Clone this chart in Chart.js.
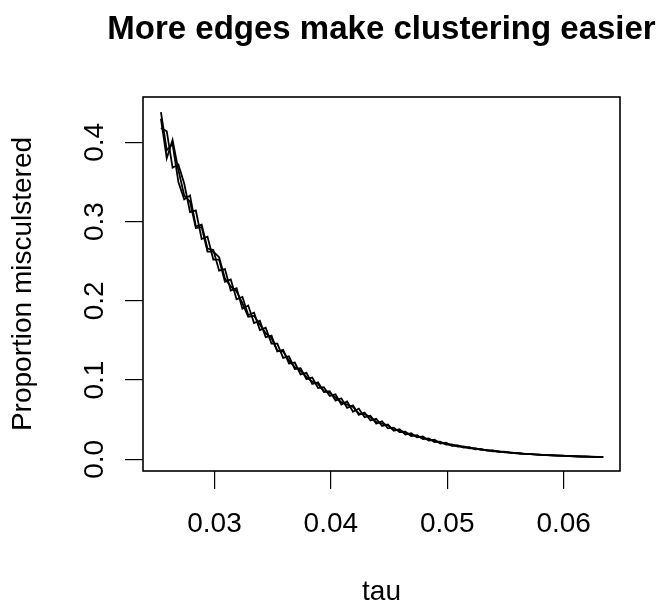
<!DOCTYPE html>
<html>
<head>
<meta charset="utf-8">
<title>More edges make clustering easier</title>
<script src="https://cdn.jsdelivr.net/npm/chart.js@4.4.1/dist/chart.umd.min.js"></script>
<style>
  html, body { margin: 0; padding: 0; background: #fff; }
  #wrap { width: 663px; height: 602px; position: relative; }
</style>
</head>
<body>
<div id="wrap"><canvas id="grafico"></canvas></div>
<script>
// tau values (x), one per point
const tau = [
  0.0254, 0.0259, 0.0264, 0.0269, 0.0274, 0.0279, 0.0284, 0.0289, 0.0294, 0.0299,
  0.0304, 0.0309, 0.0314, 0.0319, 0.0324, 0.0329, 0.0334, 0.0339, 0.0344, 0.0349,
  0.0354, 0.0359, 0.0364, 0.0369, 0.0374, 0.0379, 0.0384, 0.0389, 0.0394, 0.0399,
  0.0404, 0.0409, 0.0414, 0.0419, 0.0424, 0.0429, 0.0434, 0.0439, 0.0444, 0.0449,
  0.0454, 0.0459, 0.0464, 0.0469, 0.0474, 0.0479, 0.0484, 0.0489, 0.0494, 0.0499,
  0.0504, 0.0509, 0.0514, 0.0519, 0.0524, 0.0529, 0.0534, 0.0539, 0.0544, 0.0549,
  0.0554, 0.0559, 0.0564, 0.0569, 0.0574, 0.0579, 0.0584, 0.0589, 0.0594, 0.0599,
  0.0604, 0.0609, 0.0614, 0.0619, 0.0624, 0.0629, 0.0634
];

// proportion misclustered, three runs
const run1 = [
  0.438, 0.390, 0.398, 0.350, 0.328, 0.333, 0.294, 0.296, 0.266, 0.264,
  0.238, 0.240, 0.213, 0.216, 0.190, 0.194, 0.172, 0.175, 0.154, 0.156,
  0.136, 0.138, 0.121, 0.122, 0.107, 0.109, 0.095, 0.097, 0.085, 0.086,
  0.074, 0.077, 0.065, 0.068, 0.056, 0.059, 0.049, 0.051, 0.042, 0.044,
  0.0360, 0.0378, 0.0312, 0.0328, 0.0276, 0.0287, 0.0236, 0.0246, 0.0198, 0.0210,
  0.0170, 0.0176, 0.0146, 0.0153, 0.0125, 0.0130, 0.0108, 0.0111, 0.0094, 0.0095,
  0.0081, 0.0080, 0.0070, 0.0069, 0.0061, 0.0059, 0.0053, 0.0052, 0.0046, 0.0045,
  0.0040, 0.0040, 0.0035, 0.0035, 0.0031, 0.0031, 0.0029
];
const run2 = [
  0.418, 0.414, 0.368, 0.372, 0.348, 0.312, 0.314, 0.278, 0.281, 0.252,
  0.252, 0.224, 0.227, 0.202, 0.205, 0.182, 0.185, 0.163, 0.166, 0.146,
  0.146, 0.128, 0.130, 0.114, 0.115, 0.101, 0.103, 0.090, 0.091, 0.080,
  0.082, 0.069, 0.073, 0.060, 0.064, 0.053, 0.055, 0.045, 0.048, 0.039,
  0.0400, 0.0343, 0.0347, 0.0293, 0.0305, 0.0254, 0.0264, 0.0218, 0.0222, 0.0185,
  0.0188, 0.0160, 0.0162, 0.0138, 0.0139, 0.0119, 0.0119, 0.0101, 0.0102, 0.0087,
  0.0088, 0.0076, 0.0074, 0.0065, 0.0064, 0.0056, 0.0056, 0.0049, 0.0047, 0.0045,
  0.0041, 0.0038, 0.0037, 0.0033, 0.0033, 0.0030, 0.0028
];
const run3 = [
  0.430, 0.380, 0.403, 0.365, 0.333, 0.325, 0.292, 0.293, 0.262, 0.262,
  0.255, 0.228, 0.218, 0.212, 0.197, 0.180, 0.181, 0.170, 0.159, 0.153,
  0.137, 0.136, 0.125, 0.116, 0.112, 0.104, 0.098, 0.095, 0.086, 0.084,
  0.078, 0.072, 0.069, 0.066, 0.058, 0.057, 0.053, 0.047, 0.045, 0.043,
  0.0368, 0.0368, 0.0336, 0.0308, 0.0292, 0.0268, 0.0252, 0.0235, 0.0206, 0.0198,
  0.0177, 0.0172, 0.0154, 0.0146, 0.0132, 0.0124, 0.0112, 0.0108, 0.0096, 0.0093,
  0.0084, 0.0078, 0.0071, 0.0068, 0.0061, 0.0059, 0.0053, 0.0051, 0.0048, 0.0043,
  0.0042, 0.0038, 0.0035, 0.0034, 0.0031, 0.0030, 0.0028
];

const titulo = 'More edges make clustering easier';
const xTicks = [0.03, 0.04, 0.05, 0.06];
const yTicks = [0.0, 0.1, 0.2, 0.3, 0.4];

const fonte = "'Liberation Sans', Arial, Helvetica, sans-serif";

function pontos(ys) {
  return ys.map((y, i) => ({ x: tau[i], y: y }));
}

function serie(ys) {
  return {
    data: pontos(ys),
    borderColor: '#000',
    backgroundColor: '#000',
    borderWidth: 1.8,
    pointRadius: 0,
    tension: 0,
    fill: false
  };
}

// box round the plot region (R's bty = "o") and the main title,
// centred over the plot region but allowed to run wider than it
const caixa = {
  id: 'caixa',
  afterDraw(chart) {
    const a = chart.chartArea;
    const ctx = chart.ctx;
    ctx.save();
    ctx.strokeStyle = '#000';
    ctx.lineWidth = 1.6;
    ctx.strokeRect(a.left, a.top, a.right - a.left, a.bottom - a.top);
    ctx.fillStyle = '#000';
    ctx.font = 'bold 33px ' + fonte;
    ctx.textAlign = 'center';
    ctx.textBaseline = 'alphabetic';
    ctx.fillText(titulo, (a.left + a.right) / 2, 38.5);
    ctx.restore();
  }
};

var ctx = document.getElementById('grafico').getContext('2d');
var grafico = new Chart(ctx, {
  type: 'line',
  data: {
    datasets: [serie(run1), serie(run2), serie(run3)]
  },
  options: {
    responsive: true,
    maintainAspectRatio: false,
    animation: false,
    layout: { padding: { left: 0, right: 43, top: 97, bottom: 0 } },
    plugins: {
      legend: { display: false },
      tooltip: { enabled: false },
      title: { display: false }
    },
    scales: {
      x: {
        type: 'linear',
        min: 0.02386,
        max: 0.06484,
        afterFit: s => { s.height = 131; },
        afterBuildTicks: s => { s.ticks = xTicks.map(v => ({ value: v })); },
        border: { display: false },
        grid: {
          drawOnChartArea: false,
          drawTicks: true,
          tickLength: 18,
          color: '#000',
          lineWidth: 1.2
        },
        ticks: {
          color: '#000',
          padding: 18.7,
          maxRotation: 0,
          font: { family: fonte, size: 28 },
          callback: v => v.toFixed(2)
        },
        title: {
          display: true,
          text: 'tau',
          color: '#000',
          font: { family: fonte, size: 28, lineHeight: 0.7 },
          padding: { top: 0, bottom: 0 }
        }
      },
      y: {
        type: 'linear',
        min: -0.0148,
        max: 0.4572,
        afterFit: s => { s.width = 143; },
        afterBuildTicks: s => { s.ticks = yTicks.map(v => ({ value: v })); },
        border: { display: false },
        grid: {
          drawOnChartArea: false,
          drawTicks: true,
          tickLength: 18,
          color: '#000',
          lineWidth: 1.2
        },
        ticks: {
          color: '#000',
          padding: 10.5,
          minRotation: 90,
          maxRotation: 90,
          crossAlign: 'center',
          font: { family: fonte, size: 28 },
          callback: v => v.toFixed(1)
        },
        title: {
          display: true,
          text: 'Proportion misculstered',
          color: '#000',
          font: { family: fonte, size: 28, lineHeight: 1.2 },
          padding: { top: 6.5, bottom: 0 }
        }
      }
    }
  },
  plugins: [caixa]
});
</script>
</body>
</html>
